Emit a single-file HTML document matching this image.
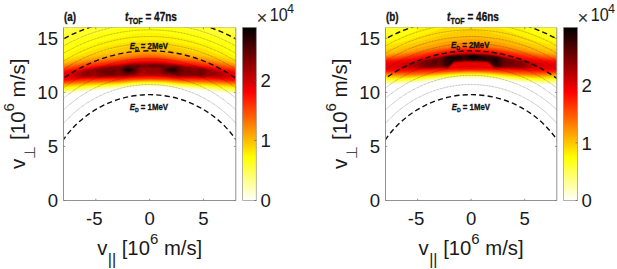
<!DOCTYPE html>
<html><head><meta charset="utf-8"><title>TOF weight functions</title>
<style>
html,body{margin:0;padding:0;background:#fff;}
body{width:617px;height:269px;overflow:hidden;}
svg{display:block;font-family:"Liberation Sans","DejaVu Sans",sans-serif;}
</style></head><body>
<svg width="617" height="269" viewBox="0 0 617 269">
<rect width="617" height="269" fill="#fff"/>
<defs><linearGradient id="cbg" x1="0" y1="1" x2="0" y2="0"><stop offset="0.0000" stop-color="#ffffff"/><stop offset="0.0312" stop-color="#ffffdf"/><stop offset="0.0625" stop-color="#ffffbf"/><stop offset="0.0938" stop-color="#ffff9f"/><stop offset="0.1250" stop-color="#ffff80"/><stop offset="0.1562" stop-color="#ffff60"/><stop offset="0.1875" stop-color="#ffff40"/><stop offset="0.2188" stop-color="#ffff20"/><stop offset="0.2500" stop-color="#ffff00"/><stop offset="0.2812" stop-color="#ffea00"/><stop offset="0.3125" stop-color="#ffd400"/><stop offset="0.3438" stop-color="#ffbf00"/><stop offset="0.3750" stop-color="#ffaa00"/><stop offset="0.4062" stop-color="#ff9500"/><stop offset="0.4375" stop-color="#ff8000"/><stop offset="0.4688" stop-color="#ff6a00"/><stop offset="0.5000" stop-color="#ff5500"/><stop offset="0.5312" stop-color="#ff4000"/><stop offset="0.5625" stop-color="#ff2a00"/><stop offset="0.5938" stop-color="#ff1500"/><stop offset="0.6250" stop-color="#ff0000"/><stop offset="0.6562" stop-color="#ea0000"/><stop offset="0.6875" stop-color="#d40000"/><stop offset="0.7188" stop-color="#bf0000"/><stop offset="0.7500" stop-color="#aa0000"/><stop offset="0.7812" stop-color="#950000"/><stop offset="0.8125" stop-color="#800000"/><stop offset="0.8438" stop-color="#6a0000"/><stop offset="0.8750" stop-color="#550000"/><stop offset="0.9062" stop-color="#400000"/><stop offset="0.9375" stop-color="#2a0000"/><stop offset="0.9688" stop-color="#150000"/><stop offset="1.0000" stop-color="#000000"/></linearGradient></defs>
<clipPath id="cl0"><rect x="63.5" y="27.5" width="172.3" height="173.0"/></clipPath>
<g clip-path="url(#cl0)">
<path fill="#ffffe3" fill-rule="evenodd" d="M63.2 94.7L77.6 92.8L92.2 91.2L101.8 90.4L119 89.3L132.5 87.8L142.2 87.2L150 87.1L157.2 87.2L166.8 87.8L180.3 89.3L197.5 90.4L207.1 91.2L221.7 92.8L231.3 94.2L236.9 94.7L236.9 26.4L62.4 26.4L62.4 94.7Z"/>
<path fill="#ffffc5" fill-rule="evenodd" d="M63.2 93.7L75.9 92L91.1 90.3L119 88.1L134.1 86.5L150 86L165.2 86.5L180.3 88.1L208.2 90.3L236.9 93.7L236.9 26.4L62.4 26.4L62.4 93.7Z"/>
<path fill="#ffffa6" fill-rule="evenodd" d="M63.2 92.9L76.3 91.2L91.9 89.4L119 87.4L134.1 85.8L150 85.2L165.2 85.8L180.3 87.4L207.4 89.4L236.9 93L236.9 26.4L62.4 26.4L62.4 93Z"/>
<path fill="#ffff88" fill-rule="evenodd" d="M63.2 92.2L75.2 90.6L91.2 88.8L103.8 87.8L119 86.8L133.3 85.3L141.3 84.8L150 84.7L158 84.8L166 85.3L180.3 86.8L195.5 87.8L208.1 88.8L236.9 92.3L236.9 26.4L62.4 26.4L62.4 92.3Z"/>
<path fill="#ffff69" fill-rule="evenodd" d="M63.2 91.5L75.2 89.9L92.7 88.1L119 86.2L133.3 84.7L141.3 84.4L150 84.2L166 84.7L180.3 86.2L207.4 88.1L236.9 91.5L236.9 26.4L62.4 26.4L62.4 91.5Z"/>
<path fill="#ffff4b" fill-rule="evenodd" d="M63.2 90.6L91.1 87.6L119 85.8L134.1 84.2L141.3 83.9L150 83.7L165.2 84.2L180.3 85.8L208.2 87.6L236.9 90.7L236.9 26.4L62.4 26.4L62.4 90.7Z"/>
<path fill="#ffff2c" fill-rule="evenodd" d="M63.2 89.8L90.3 87.1L119 85.3L133.3 83.9L141.3 83.5L150 83.3L158 83.5L166 83.9L180.3 85.3L209 87.1L236.9 89.8L236.9 35.1L234.5 34.3L221 28.8L217.4 27.2L216.2 26.4L83.1 26.4L81.9 27.2L78.3 28.8L64.8 34.3L62.4 35.1L62.4 89.8Z"/>
<path fill="#ffff0e" fill-rule="evenodd" d="M63.2 89L90.3 86.5L119 84.8L133.3 83.4L141.3 83L150 82.9L158 83L166 83.4L180.3 84.8L209 86.5L236.9 89L236.9 46.6L235.3 46L224.1 41L217 38.3L209.8 35.8L196.3 32.2L180.7 28.8L175.6 27.2L174.1 26.4L125.2 26.4L123.7 27.2L118.6 28.8L103 32.2L89.5 35.8L82.3 38.3L75.2 41L64 46L62.4 46.6L62.4 89Z"/>
<path fill="#fff400" fill-rule="evenodd" d="M63.2 88.1L90.3 85.9L119 84.3L133.3 83L141.3 82.6L149.3 82.5L165.2 82.9L180.3 84.3L208.2 85.9L236.9 88.1L236.9 56.9L236.1 56.8L234.1 56L228.1 52.3L224.1 50.2L219.4 48.2L213.8 46.1L208.2 44.4L193.9 40.4L171.5 35.2L166 34.1L161.2 33.4L150.8 32.5L142.1 32.9L133.3 34.1L107 40L86.3 45.9L80.3 48L75.2 50.2L71.2 52.3L65.2 56L63.2 56.8L62.4 56.9L62.4 88.1Z"/>
<path fill="#ffdf00" fill-rule="evenodd" d="M63.2 87.3L90.3 85.3L119 83.9L134.1 82.5L149.3 82.1L165.2 82.5L180.3 83.9L208.2 85.3L233.7 87.2L236.9 87.3L236.9 59.2L234.5 58.8L220.6 55.2L215.7 53.6L206.6 50.1L196.3 47.1L188.3 45.4L166.8 41.3L158 40.3L150 39.9L141.3 40.3L133.3 41.2L111 45.4L103 47.1L92.7 50.1L83.6 53.6L78.7 55.2L64.8 58.8L62.4 59.2L62.4 87.3Z"/>
<path fill="#ffcb00" fill-rule="evenodd" d="M63.2 86.5L90.3 84.7L119 83.4L134.1 82L149.3 81.6L165.2 82L180.3 83.4L208.2 84.7L232.1 86.3L236.9 86.5L236.9 61.1L235.1 60.8L224.1 58.1L199.3 52.8L173.9 47L165.2 45.3L158 44.4L150 44L141.3 44.4L134.1 45.3L125.4 47L100 52.8L75.2 58.1L64.2 60.8L62.4 61.1L62.4 86.5Z"/>
<path fill="#ffb700" fill-rule="evenodd" d="M63.2 85.8L91.1 84.1L119 82.9L134.1 81.6L149.3 81.2L165.2 81.6L180.3 82.9L208.2 84.1L232.9 85.7L236.9 85.8L236.9 62.6L235.1 62.4L208.2 56.7L194.7 54.3L180.3 52.1L164.4 49.1L158 48.4L150 47.9L142.1 48.3L134.9 49.1L119 52.1L104.6 54.3L91.1 56.7L64.2 62.4L62.4 62.6L62.4 85.8Z"/>
<path fill="#ffa200" fill-rule="evenodd" d="M63.2 85.2L91.1 83.6L118.2 82.5L134.1 81.2L149.3 80.8L165.2 81.2L181.1 82.5L208.2 83.6L236.9 85.1L236.9 63.8L209 58.5L195.5 56.3L180.3 54.2L165.2 51.6L158 50.9L150 50.5L141.3 50.9L134.1 51.6L119 54.2L103.8 56.3L90.3 58.5L62.4 63.8L62.4 85.1Z"/>
<path fill="#ff8e00" fill-rule="evenodd" d="M63.2 84.6L91.1 83.1L119 82L134.1 80.8L149.3 80.4L165.2 80.8L180.3 82L208.2 83.1L236.9 84.6L236.9 65L235.3 64.8L224.9 62.7L208.2 59.7L195.5 57.9L180.3 56L164.4 53.5L158 52.9L149.3 52.6L141.3 52.9L134.1 53.6L119 56L103.8 57.9L91.1 59.7L74.4 62.7L64 64.8L62.4 65L62.4 84.6Z"/>
<path fill="#ff7a00" fill-rule="evenodd" d="M63.2 84L90.3 82.6L118.2 81.6L134.1 80.4L149.3 80L165.2 80.4L181.1 81.6L209 82.6L236.9 84L236.9 66.1L224.1 63.6L209 61L194.7 59L180.3 57.4L165.2 55.2L158 54.6L150 54.3L141.3 54.6L134.1 55.2L119 57.4L104.6 59L90.3 61L75.2 63.6L62.4 66.1L62.4 84Z"/>
<path fill="#ff6500" fill-rule="evenodd" d="M63.2 83.5L75.2 82.7L90.3 82L119 81.2L134.1 80L149.3 79.6L165.2 80L180.3 81.2L209 82L224.1 82.7L236.9 83.5L236.9 67.1L209 62L196.3 60.3L180.3 58.5L165.2 56.4L158 55.8L150 55.6L141.3 55.8L134.1 56.4L119 58.5L103 60.3L90.3 62L62.4 67.1L62.4 83.5Z"/>
<path fill="#ff5100" fill-rule="evenodd" d="M63.2 83L75.2 82L90.3 81.3L118.2 80.8L134.1 79.6L150 79.3L165.2 79.6L181.1 80.8L209 81.3L224.1 82L236.9 83L236.9 68L234.5 67.7L224.9 65.8L208.2 62.8L195.5 61.1L180.3 59.5L165.2 57.5L158 56.9L150 56.7L141.3 56.9L134.9 57.4L119 59.5L103.8 61.1L91.1 62.8L74.4 65.8L64.8 67.7L62.4 68L62.4 83Z"/>
<path fill="#ff3d00" fill-rule="evenodd" d="M63.2 82.4L75.2 81.4L90.3 80.6L119 80.2L134.1 79.2L150 78.9L165.2 79.2L180.3 80.2L209 80.6L224.1 81.4L236.9 82.4L236.9 68.9L234.5 68.6L224.1 66.6L204.1 63.2L193.9 61.8L180.3 60.4L166 58.5L158 57.9L150 57.6L141.3 57.9L135.7 58.2L95.2 63.2L75.2 66.6L64.8 68.6L62.4 68.9L62.4 82.4Z"/>
<path fill="#ff2800" fill-rule="evenodd" d="M63.2 81.8L75.2 80.8L90.3 79.9L103.8 79.6L119 79.6L134.1 78.6L150 78.4L166 78.7L180.3 79.6L195.5 79.6L209 79.9L223.3 80.7L236.9 81.8L236.9 69.8L234.5 69.5L209.8 65.2L202 64L192.3 62.7L180.3 61.3L166 59.3L158 58.7L150.8 58.4L139.7 58.8L133.3 59.3L119 61.3L102.8 63.2L90.3 65L64.8 69.5L62.4 69.8L62.4 81.8Z"/>
<path fill="#ff1400" fill-rule="evenodd" d="M63.2 81.1L75.2 80.1L91.1 79.2L118.2 78.8L134.1 78L149.3 77.8L166 78L180.3 78.8L194.7 78.9L209 79.2L236.9 81.1L236.9 70.7L234.5 70.4L208.2 66L180.3 62.4L165.2 60.1L158 59.6L150.8 59.3L141.3 59.6L133.3 60.2L119 62.4L91.1 66L64.8 70.4L62.4 70.7L62.4 81.1Z"/>
<path fill="#fe0000" fill-rule="evenodd" d="M63.2 80.1L92.7 78.6L118.2 78.2L133.3 77.2L142.1 76.9L158 77L165.2 77.1L179.5 78.2L194.7 78.3L208.2 78.6L236.9 80.1L236.9 71.8L234.5 71.5L223.3 69.4L207.4 66.8L195.5 65.2L178.6 63.2L165.2 61.3L158 60.8L150.8 60.5L142.1 60.7L134.1 61.3L121 63.2L103.8 65.2L91.1 66.9L76.8 69.3L64.8 71.5L62.4 71.8L62.4 80.1Z"/>
<path fill="#ea0000" fill-rule="evenodd" d="M63.2 78.6L65.6 78.5L79.2 78.6L93.5 78L114.2 77.8L124.6 77.3L132.5 76.6L143.7 76L158.8 76.2L168.4 76.7L180.3 77.7L209 78.1L220.9 78.6L228.1 78.7L233.7 78.5L236.9 78.6L236.9 73.2L234.5 72.9L226.5 70.9L218.6 69.3L201.8 66.6L164.4 62.2L154 61.7L148.5 61.6L135.7 62.1L128.5 62.8L119.8 64.1L101.5 66.1L86.3 68.3L76.8 70.1L64.8 72.9L62.4 73.2L62.4 78.6Z"/>
<path fill="#d60000" fill-rule="evenodd" d="M73.6 77.6L77.6 77.9L84.7 78L93.5 77.6L113.4 77.4L124.6 76.9L140.5 75.5L144.5 75.4L158.8 75.5L167.6 76.2L179.5 77.3L194.7 77.4L201.8 77.7L209 77.6L220.9 78L225.7 77.8L228.9 77.3L230.7 76.8L232.2 76L232.5 75.2L231.9 74.4L230.8 73.6L229.2 72.8L224.2 71.2L215.4 69.3L201.8 67L165.2 62.8L150 62.3L133.3 62.8L126.2 63.6L119 64.7L111.8 65.3L104.6 66.2L87.9 68.5L78.7 70.4L72.7 72L68.7 73.6L67.4 74.4L66.8 75.2L67.1 76L69 76.8Z"/>
<path fill="#c10000" fill-rule="evenodd" d="M76 76.8L79.9 77.3L85.5 77.5L93.5 77.1L99.9 77.2L112.6 77.1L126.2 76.5L136.5 75.5L141.3 74.8L144.5 74.7L151.6 75L158.8 75L179.5 77L194.7 77L201.8 77.3L209 77.1L217 77.3L224.2 76.8L226.3 76L227 75.2L227.1 74.4L226.7 73.6L225.6 72.8L223.7 72L221 71.2L213.8 69.6L201.8 67.5L184.3 65.5L176.3 64.4L165.2 63.3L150 62.8L143.7 63.1L135.7 63.1L128.5 63.7L119 65.1L111.8 65.7L101.5 67L94.3 68.3L86.3 69.3L78.4 71.2L75.9 72L74.3 72.8L73.3 73.6L73 74.4L73.1 75.2L73.9 76Z"/>
<path fill="#ad0000" fill-rule="evenodd" d="M83.9 76.9L87.9 76.9L93.5 76.4L99.9 76.8L111.8 76.8L119 76.3L124.6 76.2L135.7 75.2L141.3 74.1L143.7 73.9L151.6 74.5L158.8 74.4L163.6 75.1L168.4 75.4L177.9 76.5L194.7 76.6L202.6 77L209 76.5L214.6 76.6L217.8 76.4L220.1 76L221.8 75.2L222.5 74.4L222.3 73.6L221.5 72.8L220.1 72L217.8 71.2L214.6 70.4L210.6 69.7L201 67.8L184.3 65.9L176.3 64.7L162.8 63.5L158.8 63.6L150.8 63.3L143.7 63.6L136.5 63.5L126.2 64.4L119 65.6L110.2 66.3L100.7 67.5L93.5 69L87.3 69.6L83.9 70.4L79.3 72L78 72.8L77.4 73.6L77.3 74.4L77.6 74.8L77.9 75.2L79.2 75.9Z"/>
<path fill="#990000" fill-rule="evenodd" d="M84.7 76L86.3 76.2L88.7 76.2L93.5 75.4L99.9 76.3L111.8 76.4L119 75.8L126.2 75.7L135.7 74.7L137.6 74.4L139.5 73.6L140.6 72.8L142.9 69.6L143.7 68.8L144.5 68.8L146.9 72L147.6 72.8L150 73.5L151.6 73.7L154 73.6L158 73L158.8 73.1L159.8 73.6L162.8 74.5L168.4 74.9L177.1 76.2L194.7 76.1L200.2 76.5L202.6 76.5L206.3 76L209.8 75.3L214.6 75.2L216.5 74.4L217 73.6L216.7 72.8L215.6 72L213.1 71.2L209.8 70.6L203.4 68.6L199.7 68L194.7 67.7L185.1 66.5L176.3 65.1L168.4 64.6L162.8 63.9L158.8 64L150.8 63.7L142.9 64.1L136.5 63.9L126.2 64.7L119 66.2L111 66.6L100.5 68L93.5 69.9L89.5 70L86.5 70.4L84.1 71.2L82.8 72L82.1 72.8L81.9 73.6L82.1 74.4L82.9 75.2Z"/>
<path fill="#840000" fill-rule="evenodd" d="M99.1 75.4L101.5 75.6L105.4 75.6L111.8 75.9L115 75.5L118.2 74.7L119.8 74.8L122.2 75.3L125.4 75.4L135.7 74.2L137.4 73.6L138.2 72.8L138.9 71.2L139.2 68.8L139.5 68L141.2 67.2L143.7 66.9L146.9 67.1L151.6 68L157.2 67.5L158.8 67.6L159.8 68L160.3 68.8L160.5 70.4L161 72L161.4 72.8L162.4 73.6L164.4 74L168.4 74.3L176.3 75.7L179.5 75.8L184.3 75.3L189.1 75.4L193.9 75.2L200.2 76L201.8 75.9L204.9 75.2L205.9 74.4L206.9 72.8L206.8 72L206.4 71.2L205.7 70.4L204.3 69.6L201.8 68.9L199.4 68.6L194.7 68.5L189.1 67.6L184.3 67.1L177.1 65.6L173.9 65.3L168.4 65.3L162 64.3L158.8 64.5L150.8 64.1L143.7 64.7L137.3 64.2L125.4 65.3L123.6 65.6L119 67.1L111.8 67L99.8 68.8L97.8 69.6L96.7 70.4L96.1 71.2L95.8 72L95.8 72.8L97.1 74.4L98.4 75.2ZM87.9 74.4L88.7 74.3L89.9 73.6L90.4 72.8L90.1 72L88.7 71.6L87.9 71.6L86.8 72L86.3 72.5L86.1 72.8L86.1 73.6L87.1 74.3Z"/>
<path fill="#700000" fill-rule="evenodd" d="M176.3 75.2L178.9 75.2L181.1 74.4L184 71.2L183.8 70.4L183.3 69.6L181.9 68L180.8 67.2L178.9 66.4L174.7 65.8L172.4 65.9L168.4 66.5L165.2 66.4L164.4 66.1L164.1 65.6L162.8 64.8L162 64.7L158 65.3L154 64.8L150 64.7L149.1 64.8L146.3 65.6L149 66.4L150.8 66.6L153.2 66.7L158 66.4L159.6 66.7L160.8 67.2L162 68L162.2 68.8L162.2 70.4L162.8 71.6L163.6 72.5L164.4 72.8L170 73.6L172.6 74.4ZM108.6 74.5L110.2 74.9L111.8 74.9L113.4 74.6L114.2 74.2L115.4 72.8L116.2 71.2L116.2 70.4L115.2 68.8L114.1 68L113.4 67.9L110.2 68L106.2 69.4L101.5 70.1L100.7 70.4L100 71.2L99.8 72L100.1 72.8L101.2 73.6L102.3 73.8L105.4 73.6ZM123.8 74.6L126.2 74.7L128.5 74.5L134.9 73.4L135.7 73.1L136.5 72.4L137.2 71.2L137.5 70.4L137.7 68L138.7 67.2L141.5 65.6L138.7 64.8L137.3 64.7L136.1 64.8L134.9 65.4L134.1 65.5L126.9 65.6L123.3 66.4L121.8 67.2L120.9 68L120.2 68.8L119.6 70.4L119.9 71.2L122 73.6L123.1 74.4ZM199.4 74.5L201 74.7L201.8 74.5L203.1 73.6L203.5 72.8L203.6 72L203.3 71.2L202.7 70.4L201 69.8L199.4 69.6L197.5 70.4L196.8 71.2L196.6 72L197.1 72.8L197.9 73.6ZM187.5 72.3L189.1 72.7L189.9 72.6L191 72L191.2 71.2L190.6 70.4L189.9 70L189.1 69.8L187.5 70L186.7 70.4L186.2 71.2L186.9 72Z"/>
<path fill="#5c0000" fill-rule="evenodd" d="M126.2 73.7L129.3 73.4L133.3 72.4L134.9 71.8L135.6 71.2L136.1 70.4L136.2 69.6L135.9 68.8L135.2 68L134.1 67.5L129.3 66.4L126.2 66.4L124 67.2L123 67.9L122.1 68.8L121.7 69.6L121.7 70.4L122 71.2L123 72.2L124.6 73.3ZM174.7 73.8L176.3 74.2L177.9 73.8L178.7 73.2L179.7 72L180.1 71.2L180.1 69.6L179.2 68L178.2 67.2L176.3 66.7L174.7 66.6L167.6 67.6L165.2 68.2L164.2 68.8L163.8 69.6L163.9 70.4L164.6 71.2L165.2 71.5L167.6 72.2L171.6 72.9ZM136.5 66.9L137.3 66.8L138.1 66.4L138.3 65.6L137.3 65.3L136.3 65.6L136.1 66.4ZM162 66.5L162.5 66.4L162.4 65.6L161.5 65.6L161.7 66.4Z"/>
<path fill="#470000" fill-rule="evenodd" d="M125.4 72.4L127.7 72.7L130.9 72.3L133.7 71.2L134.6 70.4L134.7 69.6L134 68.8L133.3 68.4L130.9 67.6L127.7 67.2L125.4 67.6L123.5 68.8L123 69.6L123 70.4L123.8 71.5ZM170.8 72.1L173.9 72.4L176.3 72.2L177.1 71.9L177.9 71.2L178.3 70.4L178.2 69.6L177.7 68.8L176.6 68L175.5 67.7L173.9 67.6L170.8 67.8L168.4 68.2L166.6 68.8L165.6 69.6L165.7 70.4L166.9 71.2Z"/>
<path fill="#330000" fill-rule="evenodd" d="M127.7 72L130.1 71.8L132 71.2L133.1 70.4L133.2 69.6L131.7 68.6L129.3 68L126.9 68L124.8 68.8L124.2 69.6L124.1 70.4L124.6 70.9L125.4 71.5L126.2 71.8ZM169.2 71.3L172.4 71.7L174.7 71.5L175.6 71.2L176.3 70.6L176.5 70.4L176.4 69.6L175.5 68.8L174.7 68.5L172.4 68.3L169.2 68.7L167.3 69.6L167.4 70.4Z"/>
<path fill="#1f0000" fill-rule="evenodd" d="M126.9 71.3L128.5 71.4L130.2 71.2L131.7 70.4L131.8 69.6L130.4 68.8L129.3 68.6L127.7 68.5L126.5 68.8L125.3 69.6L125.3 70.4L126.2 71ZM169.2 70.5L170.8 70.9L173.1 70.9L174.6 70.4L174.6 69.6L173.1 69.1L170.8 69.1L169 69.6Z"/>
<path fill="#0a0000" fill-rule="evenodd" d="M126.9 70.5L127.7 70.7L129.3 70.7L130.2 70.4L130.2 69.6L129.3 69.3L127.7 69.3L126.8 69.6L126.8 70.4Z"/>
<g fill="none" stroke="#222" stroke-opacity="0.58" stroke-width="0.6" stroke-dasharray="0.9 0.6">
<ellipse cx="149.65" cy="200.50" rx="115.48" ry="115.95"/>
<ellipse cx="149.65" cy="200.50" rx="124.73" ry="125.24"/>
<ellipse cx="149.65" cy="200.50" rx="133.34" ry="133.88"/>
<ellipse cx="149.65" cy="200.50" rx="141.43" ry="142.00"/>
<ellipse cx="149.65" cy="200.50" rx="156.36" ry="156.99"/>
<ellipse cx="149.65" cy="200.50" rx="163.31" ry="163.97"/>
<ellipse cx="149.65" cy="200.50" rx="169.98" ry="170.67"/>
<ellipse cx="149.65" cy="200.50" rx="176.39" ry="177.11"/>
</g>
<g fill="none" stroke="#111" stroke-width="1.4" stroke-dasharray="5.2 3.2">
<ellipse cx="149.65" cy="200.50" rx="105.42" ry="105.84"/>
<ellipse cx="149.65" cy="200.50" rx="149.08" ry="149.69"/>
<ellipse cx="149.65" cy="200.50" rx="182.58" ry="183.33"/>
</g>
</g>
<path d="M63.5 27.5V200.5H235.8V27.5" fill="none" stroke="#929292" stroke-width="1"/>
<path d="M63.5 27.5H235.8" fill="none" stroke="#8a8a8a" stroke-opacity="0.45" stroke-width="0.8"/>
<path d="M95.8 200.5v-1.8M95.8 27.5v1.8M149.7 200.5v-1.8M149.7 27.5v1.8M203.5 200.5v-1.8M203.5 27.5v1.8M63.5 200.5h1.8M235.8 200.5h-1.8M63.5 146.4h1.8M235.8 146.4h-1.8M63.5 92.4h1.8M235.8 92.4h-1.8M63.5 38.3h1.8M235.8 38.3h-1.8" stroke="#777" stroke-width="0.8" fill="none"/>
<g font-size="18.6" fill="#1a1a1a">
<text x="94.3" y="225" text-anchor="middle">-5</text>
<text x="149.7" y="225" text-anchor="middle">0</text>
<text x="203.5" y="225" text-anchor="middle">5</text>
<text x="58.0" y="207.3" text-anchor="end">0</text>
<text x="58.0" y="153.2" text-anchor="end">5</text>
<text x="58.0" y="99.2" text-anchor="end">10</text>
<text x="58.0" y="45.1" text-anchor="end">15</text>
</g>
<text x="149.7" y="255.3" font-size="20.3" fill="#1a1a1a" text-anchor="middle">v<tspan font-size="16" dy="9.8" dx="0.5">||</tspan><tspan dy="-9.8"> [10</tspan><tspan font-size="15" dy="-11.3">6</tspan><tspan dy="11.3"> m/s]</tspan></text>
<text transform="translate(24.6,113.8) rotate(-90)" font-size="20.5" fill="#1a1a1a" text-anchor="middle">v<tspan font-size="15" dy="10.4" dx="-0.6" fill="#4a4a4a" font-family="DejaVu Sans, sans-serif">⊥</tspan><tspan dy="-10.4" dx="0.6"> [10</tspan><tspan font-size="15" dy="-10.5">6</tspan><tspan dy="10.5"> m/s]</tspan></text>
<g font-weight="bold" fill="#111" stroke="#111" stroke-width="0.3">
<text transform="translate(125.1,21.3) scale(0.835,1)" font-size="12"><tspan font-style="italic">t</tspan><tspan font-size="8.6" dy="2.6">TOF</tspan><tspan dy="-2.6"> = 47ns</tspan></text>
<text transform="translate(64.0,21.1) scale(0.82,1)" font-size="12">(a)</text>
<text transform="translate(129.7,48.7) scale(0.87,1)" font-size="9"><tspan font-style="italic">E</tspan><tspan font-size="6" dy="2.2">D</tspan><tspan dy="-2.2"> = 2MeV</tspan></text>
<text transform="translate(129.7,109.5) scale(0.87,1)" font-size="9"><tspan font-style="italic">E</tspan><tspan font-size="6" dy="2.2">D</tspan><tspan dy="-2.2"> = 1MeV</tspan></text>
</g>
<rect x="242.6" y="27.5" width="13.7" height="173.0" fill="url(#cbg)" stroke="#777" stroke-opacity="0.7" stroke-width="0.8"/>
<g font-size="18.6" fill="#1a1a1a">
<text x="260.5" y="207.4">0</text>
<path d="M256.3 200.5h-1.8" stroke="#555" stroke-width="0.7"/>
<text x="260.5" y="147.3">1</text>
<path d="M256.3 140.4h-1.8" stroke="#555" stroke-width="0.7"/>
<text x="260.5" y="87.3">2</text>
<path d="M256.3 80.4h-1.8" stroke="#555" stroke-width="0.7"/>
<text x="256.6" y="23.6" fill="#333">×</text>
<text transform="translate(269.7,21.3) scale(0.87,1)">10</text>
<text x="286.9" y="13.1" font-size="12.6">4</text>
</g>
<clipPath id="cl1"><rect x="385.5" y="27.5" width="171.3" height="173.0"/></clipPath>
<g clip-path="url(#cl1)">
<path fill="#ffffe3" fill-rule="evenodd" d="M385.2 84.9L393.1 84.9L402.6 84.6L416.1 83.5L448.7 80L461.6 79.2L470.8 79L480.7 79.2L493.6 80L526.2 83.5L539.7 84.6L549.2 84.9L557.9 84.9L557.9 26.4L384.4 26.4L384.4 84.9Z"/>
<path fill="#ffffc5" fill-rule="evenodd" d="M385.2 83.9L394.7 83.8L402.6 83.4L416.9 82.2L436.5 80L449.4 78.8L460.5 78.1L470.8 77.8L481 78L492.1 78.7L505.8 80L525.4 82.2L540.4 83.5L548.4 83.9L557.9 83.9L557.9 26.4L384.4 26.4L384.4 83.9Z"/>
<path fill="#ffffa6" fill-rule="evenodd" d="M385.2 83.2L394.7 83.1L404.2 82.6L416.9 81.4L447.8 78.1L458.9 77.3L470.8 77L482.6 77.3L493.7 78L525.4 81.4L538.1 82.6L547.6 83.1L557.9 83.2L557.9 26.4L384.4 26.4L384.4 83.2Z"/>
<path fill="#ffff88" fill-rule="evenodd" d="M385.2 82.5L395.5 82.4L405.8 81.8L415.3 81L447.8 77.5L458.9 76.7L470.8 76.4L483.4 76.7L494.5 77.5L527 81L537.3 81.9L547.6 82.4L557.9 82.5L557.9 26.4L384.4 26.4L384.4 82.5Z"/>
<path fill="#ffff69" fill-rule="evenodd" d="M385.2 81.7L395.5 81.7L405.8 81.2L416.1 80.3L449.5 76.8L460.5 76.1L470.8 75.9L481.8 76.1L492.8 76.8L526.2 80.3L536.5 81.2L547.6 81.7L557.9 81.7L557.9 26.4L384.4 26.4L384.4 81.7Z"/>
<path fill="#ffff4b" fill-rule="evenodd" d="M385.2 80.9L395.5 81L405.8 80.6L416.9 79.7L448.6 76.4L459.7 75.7L470.8 75.5L482.6 75.7L493.7 76.4L525.4 79.7L536.5 80.6L547.6 81L557.9 80.9L557.9 26.4L384.4 26.4L384.4 80.9Z"/>
<path fill="#ffff2c" fill-rule="evenodd" d="M385.2 80.1L395.5 80.3L406.6 79.9L416.9 79.1L449.4 75.9L460.5 75.3L470.8 75L481 75.2L492.1 75.9L525.4 79.1L536.5 80L547.6 80.3L557.9 80.1L557.9 30.2L556.1 29.6L552.4 28L551.2 27.2L550.6 26.4L391.7 26.4L391.1 27.2L389.9 28L386.2 29.6L384.4 30.2L384.4 80.1Z"/>
<path fill="#ffff0e" fill-rule="evenodd" d="M385.2 79.3L395.5 79.6L407.4 79.3L418.9 78.4L450.2 75.4L460.5 74.8L470.8 74.6L481 74.8L491.3 75.4L523.4 78.4L535.7 79.3L546.8 79.6L557.9 79.2L557.9 36.3L551.5 34.3L545.2 31.9L538.1 28.5L535.9 27.2L535 26.4L407.3 26.4L406.4 27.2L404.2 28.5L397.1 31.9L390.8 34.3L384.4 36.3L384.4 79.2Z"/>
<path fill="#fff400" fill-rule="evenodd" d="M385.2 78.4L395.5 78.9L407.4 78.6L419.3 77.8L451 74.9L460.5 74.4L470.8 74.2L480.3 74.4L490.6 74.9L523 77.8L534.9 78.6L546.8 78.9L557.9 78.4L557.9 42.1L555.5 41.6L550.3 40L529.9 32.8L526.4 31.2L523.5 29.6L519.7 27.2L518.9 26.4L423.4 26.4L422.6 27.2L418.8 29.6L415.9 31.2L412.4 32.8L392 40L386.8 41.6L384.4 42.1L384.4 78.4Z"/>
<path fill="#ffdf00" fill-rule="evenodd" d="M386 77.7L396.3 78.2L408.2 78L420.1 77.2L451 74.5L461.3 74L470.8 73.8L481 74L490.6 74.5L523 77.3L534.9 78L546.8 78.2L557.9 77.5L557.9 45.9L544.5 43.2L535.5 40.8L516.7 34.2L503 29.6L499.5 28L498.3 27.2L497.5 26.4L444.8 26.4L444 27.2L442.8 28L439.3 29.6L425.6 34.2L406.8 40.8L397.8 43.2L384.4 45.9L384.4 77.5Z"/>
<path fill="#ffcb00" fill-rule="evenodd" d="M386 76.9L396.3 77.5L408.2 77.4L420.9 76.6L451.7 74L461.3 73.5L470.8 73.4L480.3 73.5L490.6 74L521.4 76.6L534.1 77.4L546.8 77.5L557.9 76.7L557.9 49.6L542 46.2L523.1 41.6L517.2 40L498.5 34.4L486.6 31.6L478.7 30.3L471.5 29.7L466 30L459.7 30.9L452.5 32.2L445.4 33.9L425.1 40L416 42.4L397.9 46.7L384.4 49.6L384.4 76.7Z"/>
<path fill="#ffb700" fill-rule="evenodd" d="M396.3 76.8L404.2 76.9L412.9 76.6L450.2 73.7L459.7 73.2L469.2 73L479.5 73.1L489.8 73.5L522.2 76.1L534.1 76.8L546 76.8L557.9 76L557.9 52.8L549 51.2L508.8 41.4L490.6 37.8L480.3 36.3L473.1 35.6L468.4 35.7L460.5 36.5L450.2 38.1L435.1 41.1L423.2 43.8L393.3 51.2L384.4 52.8L384.4 76Z"/>
<path fill="#ffa200" fill-rule="evenodd" d="M393.9 76L403.4 76.3L412.9 76L451 73.2L459.7 72.7L469.2 72.6L479.5 72.6L489 73L521.4 75.6L533.3 76.2L544.4 76.2L557.9 75.4L557.9 54.2L546.1 52.8L537 51.2L529.7 49.6L514.3 45.7L504.8 43.5L496.1 41.8L487.4 40.4L479.5 39.6L471.5 39.2L463.6 39.5L454.9 40.4L446.2 41.8L437.5 43.5L428 45.7L412.6 49.6L405.3 51.2L396.2 52.8L384.4 54.2L384.4 75.4Z"/>
<path fill="#ff8e00" fill-rule="evenodd" d="M390.8 75.2L402.6 75.7L412.9 75.5L422.4 74.9L450.2 72.8L459.7 72.3L469.2 72.1L479.5 72.2L489.8 72.6L520.6 75L531.7 75.6L543.6 75.6L557.9 74.8L557.9 55.3L546 54L533.2 52L520.2 49.6L497.7 44.9L485 42.9L477.9 42.2L471.5 41.9L465.2 42.2L458.1 42.8L451.7 43.7L444.6 44.9L422.1 49.6L409.1 52L396.3 54L384.4 55.3L384.4 74.8Z"/>
<path fill="#ff7a00" fill-rule="evenodd" d="M386.8 74.4L401.1 75L412.9 74.9L422.4 74.4L452.5 72.2L460.5 71.9L470 71.7L480.3 71.8L489 72.2L519.9 74.4L529.4 74.9L542 75L557.9 74.3L557.9 56.4L550.7 55.6L541.2 54.3L502.4 47.7L496.1 46.7L485 45.3L471.5 44.5L466.8 44.6L457.3 45.3L446.2 46.7L439.9 47.7L401.1 54.3L391.6 55.6L384.4 56.4L384.4 74.3Z"/>
<path fill="#ff6500" fill-rule="evenodd" d="M385.2 73.8L399.5 74.3L413.7 74.3L427.2 73.6L453.3 71.8L470.8 71.3L488.2 71.7L515.1 73.6L529.4 74.3L543.6 74.3L557.9 73.8L557.9 57.3L551.5 56.7L541.2 55.3L504.8 49.1L495.3 47.7L488.2 46.9L478.7 46.1L471.5 45.9L464.4 46.1L454.9 46.8L447 47.7L437.5 49.1L400.3 55.5L390.8 56.7L384.4 57.3L384.4 73.8Z"/>
<path fill="#ff5100" fill-rule="evenodd" d="M397.1 73.6L411.4 73.6L420.1 73.4L453.3 71.4L469.2 71L486.6 71.3L515.1 73.1L527.8 73.6L544.4 73.6L557.9 73.2L557.9 58.1L550.7 57.5L541.2 56.3L504.8 50L495.3 48.6L488.2 47.8L479.5 47.1L471.5 46.8L463.6 47L454.9 47.7L447 48.6L437.5 50L401.1 56.3L391.6 57.5L384.4 58.1L384.4 73.2Z"/>
<path fill="#ff3d00" fill-rule="evenodd" d="M388.4 72.8L401.1 73L420.1 72.6L434.3 72.1L454.9 70.9L469.2 70.6L486.6 70.8L508 72.1L523 72.6L543.6 73L557.9 72.7L557.9 58.9L549.2 58.3L539.7 57.1L506.4 51.1L496.9 49.7L489 48.7L480.3 47.9L472.3 47.6L466 47.7L458.1 48.2L449.4 49.1L439.9 50.5L401.9 57.2L393.1 58.3L384.4 58.9L384.4 72.7Z"/>
<path fill="#ff2800" fill-rule="evenodd" d="M385.2 72.1L394.7 72.3L404.2 72.2L434.3 71.3L457.3 70.3L469.2 70.1L485 70.3L508 71.3L538.9 72.2L547.6 72.3L557.9 72.1L557.9 59.7L548.4 59.1L538.1 57.8L529.4 56.4L506.3 52L489.8 49.6L481 48.8L473.9 48.5L468.4 48.5L461.3 48.8L451.7 49.7L440.8 51.2L412.1 56.5L403.4 58L393.9 59.1L384.4 59.7L384.4 72.1Z"/>
<path fill="#ff1400" fill-rule="evenodd" d="M385.2 71.4L400.3 71.5L428.4 70.4L454.1 69.8L468.4 69.7L487.4 69.8L512.7 70.4L542.8 71.5L557.9 71.4L557.9 60.6L545.2 59.7L534.1 58.3L523.8 56.6L500.4 52L489.1 50.4L480.5 49.6L474.7 49.3L469.2 49.3L462.8 49.5L453.2 50.4L441.9 52L418.5 56.6L405.8 58.7L396.3 59.8L384.4 60.6L384.4 71.4Z"/>
<path fill="#fe0000" fill-rule="evenodd" d="M385.2 70.4L397.1 70.6L408.2 70.4L439.9 69.3L447 69.2L450.2 68.7L451.7 68.6L470.8 68.9L491.3 68.6L495.3 69.2L513.2 69.6L534.9 70.4L545.2 70.6L557.9 70.4L557.9 61.7L550.7 61.3L542.8 60.6L530.9 59L517.5 56.7L497 52.8L486.4 51.2L475.5 50.3L470.8 50.2L465.2 50.4L455.9 51.2L450.1 52L420.9 57.4L407.4 59.6L393.9 61.1L384.4 61.7L384.4 70.4Z"/>
<path fill="#ea0000" fill-rule="evenodd" d="M385.2 68.9L409.8 69.4L423.2 69.3L433.5 69.1L439.9 68.7L447 68.7L448.6 68.4L451.7 66.8L452.5 66.5L454.1 66.5L470.8 66.9L489 66.5L490.6 66.7L493.7 68.4L495.3 68.7L504.7 68.8L520.6 69.4L538.9 69.3L557.9 68.9L557.9 63.3L548.4 62.8L533.4 60.8L494.5 53.8L480.3 52.2L473.1 51.8L470 51.8L459.7 52.5L447.8 53.8L413.7 60L403.4 61.6L393.9 62.8L384.4 63.3L384.4 68.9Z"/>
<path fill="#d60000" fill-rule="evenodd" d="M420.1 68.8L432.7 68.7L440.7 68.3L447 68.4L447.8 68.3L449.4 67.6L453.8 64L454.9 63.4L455.7 63.2L466 62.8L471.5 62.8L486.7 63.2L488.5 64L492.9 67.5L494.5 68.3L496.1 68.4L522.2 68.9L537.3 68.3L540.2 68L544.6 67.2L546.5 66.4L546.7 65.6L545.9 64.8L543.7 64L538.1 62.7L522.2 59.6L506.5 56.8L496.1 54.7L491.3 54.1L482.6 53.3L471.5 52.8L458.9 53.3L451 54L447 54.6L405.6 62.4L398.8 64L396.6 64.8L395.7 65.6L396 66.4L397.9 67.2L403.4 68.2L409 68.6Z"/>
<path fill="#c10000" fill-rule="evenodd" d="M414.5 68L423.2 68.4L433.5 68.4L440.7 68L447 68L448.6 67.7L450.3 66.4L453.9 63.2L454.9 62.8L458.1 62.4L466 62.1L479.5 62.2L484.6 62.4L487.4 62.7L488.5 63.2L493.7 67.6L494.5 67.9L496.1 68.1L520.6 68.5L524.6 68.4L535.8 67.2L537.8 66.4L538.3 65.6L538.2 64.8L537.3 64L535.2 63.2L523.8 60.5L508.2 57.6L498.5 55.5L493.7 54.8L485.8 54L474.7 53.3L470.8 53.2L457.3 53.9L447.8 54.9L438.3 56.8L422.4 59.7L416.1 61.2L409.7 62.4L406.5 63.2L404.7 64L403.9 64.8L403.8 65.6L404.3 66.4L405.7 67.2L409.8 67.9Z"/>
<path fill="#ad0000" fill-rule="evenodd" d="M422.4 68L432.7 68.1L439.9 67.7L447.8 67.7L449.4 66.9L453.3 63.2L454.6 62.4L465.2 61.6L477.9 61.8L487.4 62.3L488.2 62.6L489 63.1L493.7 67.3L494.5 67.7L496.1 67.8L523 68L528.1 67.2L530.2 66.4L531.4 65.6L531.8 64.8L531.4 64L530.2 63.2L528.4 62.4L524.6 61.2L521.4 60.5L506.4 57.7L497.7 55.7L492.9 55L484.2 54.2L471.5 53.6L458.9 54.1L448.6 55L439.9 56.9L432.7 58.1L420.9 60.6L415.3 62.2L410.8 63.2L408.9 64L408.4 64.8L408.5 65.6L409.8 66.4Z"/>
<path fill="#990000" fill-rule="evenodd" d="M420.9 67.3L423.2 67.5L431.9 67.7L439.9 67.3L447 67.6L447.8 67.5L449.4 66.6L454.1 62.3L455.7 62L465.2 61.3L479.5 61.5L487.4 62L488.2 62.2L489 62.8L493.7 67.1L494.5 67.4L496.1 67.6L523 67.4L524.3 67.2L526.1 66.4L526.8 65.6L527.2 64.8L527.2 64L526.9 63.2L525.9 62.4L524.1 61.6L520.9 60.8L505.6 57.9L496.9 55.9L492.9 55.3L485 54.5L475.5 53.9L470.8 53.8L458.9 54.4L449.4 55.2L446.2 55.8L439.9 57.3L433.3 58.4L421.9 60.8L419.4 61.6L417.8 62.4L416.9 63.2L416.6 64L416.8 64.8L417.3 65.6L418.3 66.4Z"/>
<path fill="#840000" fill-rule="evenodd" d="M429.6 67.2L434.3 67.3L439.9 66.8L445.4 67.3L447.8 67.2L449.4 66.3L453.3 62.6L454.1 62L455.7 61.7L465.2 61L479.5 61.2L487.4 61.7L488.2 61.9L489 62.4L493.7 66.8L494.5 67.2L496.1 67.4L500.1 67.3L504.8 67L510.4 67L515.9 66.6L521.4 66.6L522.4 66.4L523.6 65.6L524.1 64.8L524.2 64L524.1 63.2L523.4 62.4L521.5 61.6L515.9 60.6L510.2 59.2L507.2 58.7L496.9 56.1L492.9 55.5L485 54.8L474.7 54.1L470.8 54.1L457.3 54.7L450.2 55.3L447.8 55.7L439.1 57.9L431.2 59.2L424.3 60.8L421.8 61.6L420.6 62.4L420.2 63.2L420.1 64L420.4 64.8L420.9 65.6L422 66.4L424 66.8Z"/>
<path fill="#700000" fill-rule="evenodd" d="M430.4 66.4L434.3 66.7L439.1 66L445.4 67L447.8 66.9L449.4 66L453.2 62.4L454.1 61.8L455.7 61.4L464.4 60.8L479.5 61L487.4 61.4L489 62.1L493.7 66.5L494.5 66.9L496.1 67.1L500.1 67L506.4 66L511 65.6L512.7 64.8L513.8 64L514.4 63.2L514.4 62.4L514 61.6L512.8 60.8L510.6 60L505.6 58.9L501.8 57.6L496.9 56.4L493.7 55.9L485 55L474.7 54.3L470.8 54.3L465.2 54.7L457.3 55L448.6 55.8L444.2 56.8L439.9 58.3L433.5 59.2L430.3 60L426 61.6L424.8 62.4L424.6 63.2L425 64L428.1 65.6Z"/>
<path fill="#5c0000" fill-rule="evenodd" d="M444.6 66.5L447 66.8L448.4 66.4L453.3 61.9L454.1 61.5L455.7 61.2L466 60.4L473.1 60.7L479.5 60.7L487.4 61.1L488.2 61.3L489 61.7L493.1 65.6L494.5 66.6L496.1 66.8L499.3 66.7L501.3 66.4L502.8 65.6L504.7 62.4L504.7 60.8L504.5 60L503.7 59.2L502.4 58.4L500.6 57.6L497.8 56.8L492.6 56L484.2 55.2L471.5 54.5L465.2 55L458.1 55.2L450.2 55.8L445.4 56.8L443.1 57.6L441.6 58.4L440.7 59.2L440.1 60L439.9 61.6L440.2 62.4L441.6 64.8L442.2 65.6L443.9 66.4ZM432.7 64.2L433.5 64.5L434.3 64.5L435.9 63.8L437.3 62.4L437.6 61.6L437.4 60.8L436.4 60L435.1 59.9L434.1 60L432.1 60.8L431.5 61.6L431.4 62.4L431.7 63.2Z"/>
<path fill="#470000" fill-rule="evenodd" d="M446.2 66.4L447.8 66.4L448.6 65.9L452.5 62.3L454.1 61.2L465.2 60.1L473.1 60.5L480.3 60.4L488.2 60.9L489.8 61.9L493.6 65.6L494.5 66.3L496.1 66.5L498.7 66.4L500.7 65.6L501.2 64.8L501.9 62.4L502 60L501.7 59.2L501 58.4L499.4 57.6L496.3 56.8L475.5 54.9L471.5 54.7L465.2 55.3L458.9 55.4L450.4 56L446.4 56.8L444.4 57.6L443.4 58.4L443 59.2L442.9 61.6L443.7 64.8L444.2 65.6Z"/>
<path fill="#330000" fill-rule="evenodd" d="M446.2 65.7L447.8 65.9L448.6 65.5L453.3 61.2L454.1 60.8L454.9 60.6L462 60L465.2 59.6L472.3 60.2L480.3 60.1L488.2 60.4L489.8 61.2L494.4 65.6L495.3 65.9L496.9 65.9L498.5 65.6L499.2 64.8L500 62.4L500.1 60L500 59.2L499.4 58.4L497.8 57.6L496.9 57.4L493 56.8L489 56.7L485.6 56L480.3 55.7L474.7 55L470 55.1L465.2 55.9L458.9 55.8L450.2 56.4L447.8 56.8L445.8 57.6L445 58.4L444.6 60L444.8 62.4L445.5 64.8Z"/>
<path fill="#1f0000" fill-rule="evenodd" d="M447.8 64.8L448.6 64.7L449.4 64.2L452.5 61.2L454.1 60.2L458.1 59.9L461.8 59.2L462.6 58.4L462.6 57.6L462.2 56.8L460.5 56.4L458.1 56.3L450.1 56.8L447.4 57.6L446.7 58.4L446.5 60.8L447 63.2ZM495.3 63.5L496.1 63.5L496.9 63L497.3 62.4L497.6 61.6L497.8 60.8L497.5 59.2L496.9 58.4L495.3 58L493.7 58.2L493.3 58.4L492.9 59.2L492.9 60.8L493.8 62.4L494.5 63.1ZM468.4 59.4L470.8 59.8L473.1 60L480.3 59.4L485 59.5L486.6 59.2L486.8 58.4L486.6 57.6L485.4 56.8L481 56.5L473.9 55.2L471.5 55.2L467.8 56L466.9 56.8L466.8 58.4L467.7 59.2Z"/>
<path fill="#0a0000" fill-rule="evenodd" d="M470.8 59.3L473.1 59.5L476.4 59.2L477.3 58.4L477.4 57.6L477.2 56.8L475.9 56L473.9 55.7L471.5 55.7L470 56L469.3 56.8L469.3 58.4L470.2 59.2Z"/>
<path fill="#000000" fill-rule="evenodd" d="M473.1 58.4L473.7 57.6L473.3 56.8L472.3 56.8L472.1 57.6L472.3 58.2Z"/>
<g fill="none" stroke="#222" stroke-opacity="0.58" stroke-width="0.6" stroke-dasharray="0.9 0.6">
<ellipse cx="471.15" cy="200.50" rx="114.81" ry="115.95"/>
<ellipse cx="471.15" cy="200.50" rx="124.01" ry="125.24"/>
<ellipse cx="471.15" cy="200.50" rx="132.57" ry="133.88"/>
<ellipse cx="471.15" cy="200.50" rx="140.61" ry="142.00"/>
<ellipse cx="471.15" cy="200.50" rx="155.45" ry="156.99"/>
<ellipse cx="471.15" cy="200.50" rx="162.36" ry="163.97"/>
<ellipse cx="471.15" cy="200.50" rx="168.99" ry="170.67"/>
<ellipse cx="471.15" cy="200.50" rx="175.37" ry="177.11"/>
</g>
<g fill="none" stroke="#111" stroke-width="1.4" stroke-dasharray="5.2 3.2">
<ellipse cx="471.15" cy="200.50" rx="104.80" ry="105.84"/>
<ellipse cx="471.15" cy="200.50" rx="148.21" ry="149.69"/>
<ellipse cx="471.15" cy="200.50" rx="181.52" ry="183.33"/>
</g>
</g>
<path d="M385.5 27.5V200.5H556.8V27.5" fill="none" stroke="#929292" stroke-width="1"/>
<path d="M385.5 27.5H556.8" fill="none" stroke="#8a8a8a" stroke-opacity="0.45" stroke-width="0.8"/>
<path d="M417.6 200.5v-1.8M417.6 27.5v1.8M471.1 200.5v-1.8M471.1 27.5v1.8M524.7 200.5v-1.8M524.7 27.5v1.8M385.5 200.5h1.8M556.8 200.5h-1.8M385.5 146.4h1.8M556.8 146.4h-1.8M385.5 92.4h1.8M556.8 92.4h-1.8M385.5 38.3h1.8M556.8 38.3h-1.8" stroke="#777" stroke-width="0.8" fill="none"/>
<g font-size="18.6" fill="#1a1a1a">
<text x="416.1" y="225" text-anchor="middle">-5</text>
<text x="471.1" y="225" text-anchor="middle">0</text>
<text x="524.7" y="225" text-anchor="middle">5</text>
<text x="380.0" y="207.3" text-anchor="end">0</text>
<text x="380.0" y="153.2" text-anchor="end">5</text>
<text x="380.0" y="99.2" text-anchor="end">10</text>
<text x="380.0" y="45.1" text-anchor="end">15</text>
</g>
<text x="471.1" y="255.3" font-size="20.3" fill="#1a1a1a" text-anchor="middle">v<tspan font-size="16" dy="9.8" dx="0.5">||</tspan><tspan dy="-9.8"> [10</tspan><tspan font-size="15" dy="-11.3">6</tspan><tspan dy="11.3"> m/s]</tspan></text>
<text transform="translate(346.6,113.8) rotate(-90)" font-size="20.5" fill="#1a1a1a" text-anchor="middle">v<tspan font-size="15" dy="10.4" dx="-0.6" fill="#4a4a4a" font-family="DejaVu Sans, sans-serif">⊥</tspan><tspan dy="-10.4" dx="0.6"> [10</tspan><tspan font-size="15" dy="-10.5">6</tspan><tspan dy="10.5"> m/s]</tspan></text>
<g font-weight="bold" fill="#111" stroke="#111" stroke-width="0.3">
<text transform="translate(447.1,21.3) scale(0.835,1)" font-size="12"><tspan font-style="italic">t</tspan><tspan font-size="8.6" dy="2.6">TOF</tspan><tspan dy="-2.6"> = 46ns</tspan></text>
<text transform="translate(386.0,21.1) scale(0.82,1)" font-size="12">(b)</text>
<text transform="translate(451.1,48.2) scale(0.87,1)" font-size="9"><tspan font-style="italic">E</tspan><tspan font-size="6" dy="2.2">D</tspan><tspan dy="-2.2"> = 2MeV</tspan></text>
<text transform="translate(451.7,109.5) scale(0.87,1)" font-size="9"><tspan font-style="italic">E</tspan><tspan font-size="6" dy="2.2">D</tspan><tspan dy="-2.2"> = 1MeV</tspan></text>
</g>
<rect x="563.6" y="27.5" width="13.8" height="173.0" fill="url(#cbg)" stroke="#777" stroke-opacity="0.7" stroke-width="0.8"/>
<g font-size="18.6" fill="#1a1a1a">
<text x="581.6" y="207.4">0</text>
<path d="M577.4 200.5h-1.8" stroke="#555" stroke-width="0.7"/>
<text x="581.6" y="149.7">1</text>
<path d="M577.4 142.8h-1.8" stroke="#555" stroke-width="0.7"/>
<text x="581.6" y="92.1">2</text>
<path d="M577.4 85.2h-1.8" stroke="#555" stroke-width="0.7"/>
<text x="577.6" y="23.6" fill="#333">×</text>
<text transform="translate(590.7,21.3) scale(0.87,1)">10</text>
<text x="607.9" y="13.1" font-size="12.6">4</text>
</g>
</svg>
</body></html>
